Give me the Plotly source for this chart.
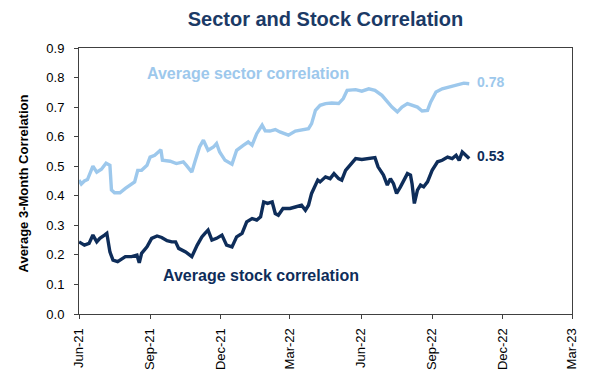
import plotly.graph_objects as go

# ---- data ----
sector_dates = [
    "2021-06-01", "2021-06-04", "2021-06-08", "2021-06-12", "2021-06-19", "2021-06-24",
    "2021-06-30", "2021-07-06", "2021-07-11", "2021-07-13", "2021-07-17", "2021-07-24",
    "2021-07-31", "2021-08-06", "2021-08-12", "2021-08-16", "2021-08-21", "2021-08-28",
    "2021-09-01", "2021-09-07", "2021-09-15", "2021-09-17", "2021-09-27", "2021-10-05",
    "2021-10-14", "2021-10-18", "2021-10-25", "2021-10-29", "2021-11-04", "2021-11-09",
    "2021-11-15", "2021-11-22", "2021-11-26", "2021-11-30", "2021-12-07", "2021-12-16",
    "2021-12-22", "2021-12-31", "2022-01-06", "2022-01-11", "2022-01-17", "2022-01-24",
    "2022-01-28", "2022-02-03", "2022-02-10", "2022-02-16", "2022-02-27", "2022-03-08",
    "2022-03-16", "2022-03-25", "2022-03-29", "2022-04-03", "2022-04-09", "2022-04-16",
    "2022-04-24", "2022-05-03", "2022-05-09", "2022-05-14", "2022-05-25", "2022-06-02",
    "2022-06-11", "2022-06-19", "2022-06-28", "2022-07-05", "2022-07-11", "2022-07-18",
    "2022-07-24", "2022-07-31", "2022-08-06", "2022-08-13", "2022-08-19", "2022-08-26",
    "2022-08-30", "2022-09-06", "2022-09-14", "2022-09-23", "2022-09-29", "2022-10-06",
    "2022-10-12", "2022-10-19",
]
sector_values = [
    0.453, 0.440, 0.450, 0.455, 0.500, 0.480,
    0.490, 0.510, 0.503, 0.420, 0.410, 0.410,
    0.425, 0.436, 0.447, 0.486, 0.486, 0.503,
    0.531, 0.537, 0.556, 0.520, 0.517, 0.509,
    0.515, 0.503, 0.480, 0.515, 0.565, 0.588,
    0.554, 0.565, 0.577, 0.548, 0.520, 0.507,
    0.554, 0.571, 0.582, 0.571, 0.610, 0.639,
    0.620, 0.619, 0.624, 0.616, 0.605, 0.619,
    0.622, 0.627, 0.644, 0.689, 0.706, 0.712,
    0.714, 0.712, 0.729, 0.757, 0.759, 0.754,
    0.762, 0.757, 0.740, 0.717, 0.700, 0.684,
    0.700, 0.712, 0.706, 0.700, 0.687, 0.689,
    0.717, 0.751, 0.762, 0.768, 0.774, 0.779,
    0.781, 0.779,
]

stock_dates = [
    "2021-06-01", "2021-06-08", "2021-06-14", "2021-06-19", "2021-06-24", "2021-06-28",
    "2021-07-04", "2021-07-07", "2021-07-11", "2021-07-15", "2021-07-21", "2021-07-31",
    "2021-08-08", "2021-08-15", "2021-08-18", "2021-08-21", "2021-08-28", "2021-09-03",
    "2021-09-10", "2021-09-16", "2021-09-23", "2021-09-29", "2021-10-04", "2021-10-08",
    "2021-10-17", "2021-10-25", "2021-11-01", "2021-11-07", "2021-11-11", "2021-11-15",
    "2021-11-20", "2021-11-26", "2021-12-03", "2021-12-09", "2021-12-16", "2021-12-22",
    "2021-12-29", "2022-01-04", "2022-01-11", "2022-01-17", "2022-01-22", "2022-01-26",
    "2022-01-31", "2022-02-06", "2022-02-10", "2022-02-14", "2022-02-20", "2022-03-01",
    "2022-03-08", "2022-03-16", "2022-03-21", "2022-03-25", "2022-03-29", "2022-04-06",
    "2022-04-09", "2022-04-16", "2022-04-22", "2022-04-27", "2022-05-03", "2022-05-07",
    "2022-05-12", "2022-05-18", "2022-05-25", "2022-06-02", "2022-06-11", "2022-06-19",
    "2022-06-23", "2022-06-30", "2022-07-05", "2022-07-09", "2022-07-13", "2022-07-17",
    "2022-07-22", "2022-07-26", "2022-07-31", "2022-08-04", "2022-08-06", "2022-08-09",
    "2022-08-13", "2022-08-17", "2022-08-21", "2022-08-26", "2022-09-01", "2022-09-08",
    "2022-09-14", "2022-09-21", "2022-09-27", "2022-10-02", "2022-10-06", "2022-10-10",
    "2022-10-15", "2022-10-19",
]
stock_values = [
    0.244, 0.233, 0.239, 0.267, 0.244, 0.256,
    0.267, 0.273, 0.210, 0.182, 0.177, 0.194,
    0.194, 0.199, 0.173, 0.205, 0.227, 0.256,
    0.264, 0.259, 0.248, 0.244, 0.244, 0.222,
    0.210, 0.194, 0.233, 0.261, 0.273, 0.284,
    0.250, 0.256, 0.267, 0.233, 0.227, 0.261,
    0.273, 0.312, 0.323, 0.318, 0.329, 0.379,
    0.374, 0.379, 0.340, 0.334, 0.357, 0.357,
    0.362, 0.368, 0.351, 0.368, 0.408, 0.453,
    0.447, 0.464, 0.458, 0.475, 0.458, 0.453,
    0.486, 0.503, 0.526, 0.523, 0.526, 0.529,
    0.498, 0.470, 0.436, 0.458, 0.441, 0.408,
    0.430, 0.453, 0.475, 0.470, 0.441, 0.374,
    0.419, 0.436, 0.430, 0.447, 0.486, 0.515,
    0.520, 0.531, 0.526, 0.537, 0.520, 0.548,
    0.537, 0.526,
]

x_tick_dates = ["2021-06-01", "2021-09-01", "2021-12-01", "2022-03-01",
                "2022-06-01", "2022-09-01", "2022-12-01", "2023-03-01"]
x_tick_labels = ["Jun-21", "Sep-21", "Dec-21", "Mar-22",
                 "Jun-22", "Sep-22", "Dec-22", "Mar-23"]
y_ticks = [0.0, 0.1, 0.2, 0.3, 0.4, 0.5, 0.6, 0.7, 0.8, 0.9]

title_text = "Sector and Stock Correlation"
y_title = "Average 3-Month Correlation"
sector_name = "Average sector correlation"
stock_name = "Average stock correlation"

SECTOR_COLOR = "#9DC8EC"
STOCK_COLOR = "#0E2D5A"
TITLE_COLOR = "#1B3A66"
FONT = "Liberation Sans, Arial, sans-serif"

fig = go.Figure()
fig.add_trace(go.Scatter(x=sector_dates, y=sector_values, mode="lines",
                         line=dict(color=SECTOR_COLOR, width=3.4), name=sector_name,
                         showlegend=False, hoverinfo="skip"))
fig.add_trace(go.Scatter(x=stock_dates, y=stock_values, mode="lines",
                         line=dict(color=STOCK_COLOR, width=3.4), name=stock_name,
                         showlegend=False, hoverinfo="skip"))

fig.update_layout(
    width=600, height=379,
    margin=dict(l=79, r=28, t=48, b=65, autoexpand=False),
    paper_bgcolor="white", plot_bgcolor="white",
    font=dict(family=FONT, size=13, color="black"),
    title=dict(text="<b>" + title_text + "</b>", x=0.5, xref="paper",
               y=1 - 19 / 379, yanchor="middle", xanchor="center", automargin=False,
               font=dict(family=FONT, size=20, color=TITLE_COLOR)),
)
fig.update_xaxes(
    type="date", range=[x_tick_dates[0], x_tick_dates[-1]],
    tickmode="array", tickvals=x_tick_dates, ticktext=x_tick_labels,
    tickangle=-90, ticks="outside", ticklen=4, tickcolor="#404040",
    showline=True, linecolor="#404040", linewidth=1, mirror=True,
    showgrid=False, zeroline=False, ticklabelstandoff=4, automargin=False,
    tickfont=dict(size=13, color="black"),
)
fig.update_yaxes(
    range=[0, 0.9], tickmode="array", tickvals=y_ticks,
    ticktext=[f"{v:.1f}" for v in y_ticks],
    ticks="outside", ticklen=4, tickcolor="#404040",
    showline=True, linecolor="#404040", linewidth=1, mirror=True,
    showgrid=False, zeroline=False, ticklabelstandoff=7, automargin=False,
    tickfont=dict(size=13, color="black"),
)

# axis title
fig.add_annotation(text="<b>" + y_title + "</b>", xref="paper", yref="paper",
                   x=(23 - 79) / 493, y=(314 - 183.5) / 266, textangle=-90,
                   showarrow=False, xanchor="center", yanchor="middle",
                   font=dict(size=13, color="black"))
# series labels
fig.add_annotation(text="<b>" + sector_name + "</b>", xref="paper", yref="paper",
                   x=(145 - 79) / 493, y=(314 - 73) / 266, showarrow=False,
                   xanchor="left", yanchor="middle",
                   font=dict(size=16, color=SECTOR_COLOR))
fig.add_annotation(text="<b>" + stock_name + "</b>", xref="paper", yref="paper",
                   x=(161 - 79) / 493, y=(314 - 275.5) / 266, showarrow=False,
                   xanchor="left", yanchor="middle",
                   font=dict(size=16, color=STOCK_COLOR))
# end value labels
fig.add_annotation(text=f"<b>{sector_values[-1]:.2f}</b>", x=sector_dates[-1], y=sector_values[-1],
                   showarrow=False, xanchor="left", yanchor="middle", xshift=6, yshift=2,
                   font=dict(size=14, color=SECTOR_COLOR))
fig.add_annotation(text=f"<b>{stock_values[-1]:.2f}</b>", x=stock_dates[-1], y=stock_values[-1],
                   showarrow=False, xanchor="left", yanchor="middle", xshift=6, yshift=3,
                   font=dict(size=14, color=STOCK_COLOR))

fig.write_html("out.html", config={"displayModeBar": False},
               post_script="document.body.style.margin='0px';")
